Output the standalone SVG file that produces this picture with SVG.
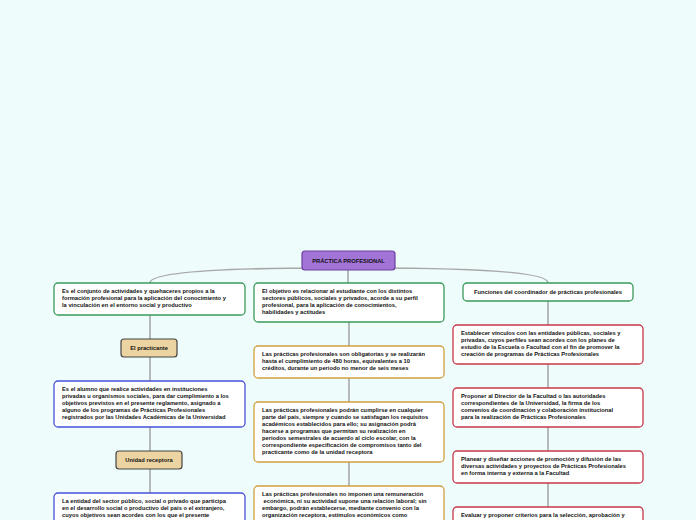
<svg xmlns="http://www.w3.org/2000/svg" width="696" height="520" viewBox="0 0 696 520">
<style>
.t{font-family:"Liberation Sans",Arial,sans-serif;font-weight:bold;font-size:5.75px;fill:#111}
.c{text-anchor:middle}
.box{fill:#fff;stroke-width:1.3}
.g{stroke:#3a9a5a}
.b{stroke:#4a50d8}
.o{stroke:#d0a040}
.r{stroke:#c83848}
.tan{fill:#ecd3a2;stroke:#444;stroke-width:1.2}
.conn{fill:none;stroke:#a8a8a8;stroke-width:1.6}
</style>
<rect width="696" height="520" fill="#effcfc"/>
<g id="connectors">
<path class="conn" d="M330 268 Q150 268 150 283"/>
<path class="conn" d="M366 268 Q548 268 548 283"/>
<path class="conn" d="M348 270 L348 283"/>
<path class="conn" d="M150 315 V339 M150 357 V381 M150 427 V451 M150 469 V493"/>
<path class="conn" d="M349 322 V346 M349 378 V402 M349 462 V486"/>
<path class="conn" d="M548 301 V325 M548 364 V388 M548 427 V451 M548 483 V507"/>
</g>
<g id="root">
<rect x="302" y="251" width="93" height="19" rx="3" fill="#a274d6" stroke="#6b3fa0" stroke-width="1.2"/>
<text class="t c" x="348.5" y="262.5">PRÁCTICA PROFESIONAL</text>
</g>
<g id="l1">
<rect class="box g" x="54" y="283" width="191" height="32" rx="4"/>
<text class="t" x="62"><tspan x="62" y="293">Es el conjunto de actividades y quehaceres propios a la</tspan><tspan x="62" y="300">formación profesional para la aplicación del conocimiento y</tspan><tspan x="62" y="307">la vinculación en el entorno social y productivo</tspan></text>
</g>
<g id="l2">
<rect class="tan" x="121" y="339" width="56" height="18" rx="3"/>
<text class="t c" x="149" y="350">El practicante</text>
</g>
<g id="l3">
<rect class="box b" x="54" y="381" width="191" height="46" rx="4"/>
<text class="t"><tspan x="62" y="391">Es el alumno que realice actividades en instituciones</tspan><tspan x="62" y="398">privadas u organismos sociales, para dar cumplimiento a los</tspan><tspan x="62" y="405">objetivos previstos en el presente reglamento, asignado a</tspan><tspan x="62" y="412">alguno de los programas de Prácticas Profesionales</tspan><tspan x="62" y="419">registrados por las Unidades Académicas de la Universidad</tspan></text>
</g>
<g id="l4">
<rect class="tan" x="116" y="451" width="66" height="18" rx="3"/>
<text class="t c" x="149" y="462">Unidad receptora</text>
</g>
<g id="l5">
<rect class="box b" x="54" y="493" width="191" height="40" rx="4"/>
<text class="t"><tspan x="62" y="503">La entidad del sector público, social o privado que participa</tspan><tspan x="62" y="510">en el desarrollo social o productivo del país o el extranjero,</tspan><tspan x="62" y="517">cuyos objetivos sean acordes con los que el presente</tspan></text>
</g>
<g id="m1">
<rect class="box g" x="254" y="283" width="190" height="39" rx="4"/>
<text class="t"><tspan x="262" y="293">El objetivo es relacionar al estudiante con los distintos</tspan><tspan x="262" y="300">sectores públicos, sociales y privados, acorde a su perfil</tspan><tspan x="262" y="307">profesional, para la aplicación de conocimientos,</tspan><tspan x="262" y="314">habilidades y actitudes</tspan></text>
</g>
<g id="m2">
<rect class="box o" x="254" y="346" width="190" height="32" rx="4"/>
<text class="t"><tspan x="262" y="356">Las prácticas profesionales son obligatorias y se realizarán</tspan><tspan x="262" y="363">hasta el cumplimiento de 480 horas, equivalentes a 10</tspan><tspan x="262" y="370">créditos, durante un periodo no menor de seis meses</tspan></text>
</g>
<g id="m3">
<rect class="box o" x="254" y="402" width="190" height="60" rx="4"/>
<text class="t"><tspan x="262" y="412">Las prácticas profesionales podrán cumplirse en cualquier</tspan><tspan x="262" y="419">parte del país, siempre y cuando se satisfagan los requisitos</tspan><tspan x="262" y="426">académicos establecidos para ello; su asignación podrá</tspan><tspan x="262" y="433">hacerse a programas que permitan su realización en</tspan><tspan x="262" y="440">periodos semestrales de acuerdo al ciclo escolar, con la</tspan><tspan x="262" y="447">correspondiente especificación de compromisos tanto del</tspan><tspan x="262" y="454">practicante como de la unidad receptora</tspan></text>
</g>
<g id="m4">
<rect class="box o" x="254" y="486" width="190" height="45" rx="4"/>
<text class="t"><tspan x="262" y="496">Las prácticas profesionales no imponen una remuneración</tspan><tspan x="262" y="503"> económica, ni su actividad supone una relación laboral; sin</tspan><tspan x="262" y="510">embargo, podrán establecerse, mediante convenio con la</tspan><tspan x="262" y="517">organización receptora, estímulos económicos como</tspan></text>
</g>
<g id="r1">
<rect class="box g" x="463" y="283" width="170" height="18" rx="4"/>
<text class="t c" x="548" y="294">Funciones del coordinador de prácticas profesionales</text>
</g>
<g id="r2">
<rect class="box r" x="453" y="325" width="190" height="39" rx="4"/>
<text class="t"><tspan x="461" y="335">Establecer vínculos con las entidades públicas, sociales y</tspan><tspan x="461" y="342">privadas, cuyos perfiles sean acordes con los planes de</tspan><tspan x="461" y="349">estudio de la Escuela o Facultad con el fin de promover la</tspan><tspan x="461" y="356">creación de programas de Prácticas Profesionales</tspan></text>
</g>
<g id="r3">
<rect class="box r" x="453" y="388" width="190" height="39" rx="4"/>
<text class="t"><tspan x="461" y="398">Proponer al Director de la Facultad o las autoridades</tspan><tspan x="461" y="405">correspondientes de la Universidad, la firma de los</tspan><tspan x="461" y="412">convenios de coordinación y colaboración institucional</tspan><tspan x="461" y="419">para la realización de Prácticas Profesionales</tspan></text>
</g>
<g id="r4">
<rect class="box r" x="453" y="451" width="190" height="32" rx="4"/>
<text class="t"><tspan x="461" y="461">Planear y diseñar acciones de promoción y difusión de las</tspan><tspan x="461" y="468">diversas actividades y proyectos de Prácticas Profesionales</tspan><tspan x="461" y="475">en forma interna y externa a la Facultad</tspan></text>
</g>
<g id="r5">
<rect class="box r" x="453" y="507" width="190" height="30" rx="4"/>
<text class="t"><tspan x="461" y="517">Evaluar y proponer criterios para la selección, aprobación y</tspan></text>
</g>
</svg>
